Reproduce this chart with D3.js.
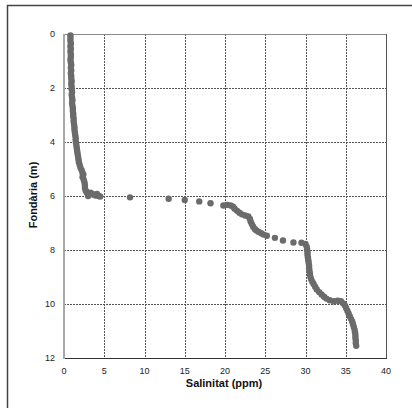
<!DOCTYPE html>
<html>
<head>
<meta charset="utf-8">
<script src="https://cdn.jsdelivr.net/npm/d3@7"></script>
<style>
  body { margin: 0; background: #fff; }
  text { font-family: "Liberation Sans", Arial, sans-serif; }
</style>
</head>
<body>
<div id="chart"></div>
<script>
// salinity (ppm) and depth (m)
var salinitat = [
  0.8,0.8,0.8,0.85,0.8,0.85,0.8,0.85,0.85,0.8,0.85,0.9,0.85,0.9,0.85,0.9,0.9,0.95,0.9,0.95,
  0.95,1.0,0.95,1.0,1.05,1.0,1.05,1.1,1.1,1.15,1.15,1.2,1.2,1.25,1.3,1.3,1.35,1.4,1.45,1.45,
  1.5,1.55,1.6,1.65,1.7,1.75,1.8,1.85,1.95,2.05,2.2,2.3,2.4,2.3,2.45,2.55,2.6,2.6,2.7,2.8,
  2.9,3.1,3.3,3.5,3.7,3.9,4.1,4.3,4.5,3.0,
  8.2,13.0,15.0,16.8,18.2,19.8,20.3,20.7,21.0,21.2,21.5,21.8,22.1,22.5,22.9,23.1,23.2,23.35,23.5,23.7,
  23.9,24.2,24.5,24.8,25.2,26.2,27.2,28.5,29.5,30.0,30.15,30.2,30.25,30.25,30.3,30.35,30.4,30.45,30.45,30.5,
  30.55,30.6,30.7,30.85,31.0,31.2,31.4,31.7,32.0,32.3,32.6,33.0,33.5,34.0,34.4,34.7,34.9,35.05,35.2,35.35,
  35.5,35.65,35.8,35.9,36.0,36.1,36.15,36.2,36.2,36.25,36.25,36.3
];
var fondaria = [
  0.05,0.15,0.25,0.35,0.45,0.55,0.65,0.75,0.85,0.95,1.05,1.15,1.25,1.35,1.45,1.55,1.65,1.75,1.85,1.95,
  2.05,2.15,2.25,2.35,2.45,2.55,2.65,2.75,2.85,2.95,3.05,3.15,3.25,3.35,3.45,3.55,3.65,3.75,3.85,3.95,
  4.05,4.15,4.25,4.35,4.45,4.55,4.65,4.75,4.85,4.95,5.05,5.15,5.2,5.3,5.4,5.5,5.6,5.7,5.8,5.85,
  5.9,5.95,5.88,5.92,5.95,5.98,5.92,6.0,6.02,6.0,
  6.05,6.1,6.15,6.2,6.27,6.35,6.33,6.35,6.4,6.47,6.55,6.62,6.68,6.72,6.76,6.85,6.95,7.05,7.14,7.22,
  7.28,7.33,7.38,7.43,7.47,7.55,7.65,7.72,7.73,7.78,7.88,7.98,8.08,8.18,8.28,8.38,8.48,8.58,8.68,8.78,
  8.88,8.98,9.08,9.18,9.26,9.36,9.46,9.56,9.65,9.73,9.8,9.86,9.9,9.88,9.9,9.98,10.06,10.15,10.25,10.35,
  10.45,10.55,10.65,10.75,10.85,10.95,11.05,11.15,11.25,11.35,11.45,11.55
];
var xTicks = [0, 5, 10, 15, 20, 25, 30, 35, 40];
var yTicks = [0, 2, 4, 6, 8, 10, 12];

var W = 412, H = 408;
var svg = d3.select("#chart").append("svg")
    .attr("width", W)
    .attr("height", H);

// outer frame (only top/left inside the picture)
svg.append("rect")
    .attr("x", 7.5).attr("y", 5.5)
    .attr("width", 500).attr("height", 500)
    .attr("fill", "none")
    .attr("stroke", "#444")
    .attr("stroke-width", 1.5);

var x = d3.scaleLinear().domain([0, 40]).range([64, 386]);
var y = d3.scaleLinear().domain([0, 12]).range([34, 358]);

// grid
svg.append("g").selectAll("line").data(xTicks.slice(1, -1)).join("line")
    .attr("x1", d => Math.round(x(d)) + 0.5).attr("x2", d => Math.round(x(d)) + 0.5)
    .attr("y1", y(0)).attr("y2", y(12))
    .attr("stroke", "#555").attr("stroke-dasharray", "2,1");
svg.append("g").selectAll("line").data(yTicks.slice(1, -1)).join("line")
    .attr("y1", d => Math.round(y(d)) + 0.5).attr("y2", d => Math.round(y(d)) + 0.5)
    .attr("x1", x(0)).attr("x2", x(40))
    .attr("stroke", "#555").attr("stroke-dasharray", "2,1");

// plot box
svg.append("line").attr("x1", x(0)).attr("x2", x(40)).attr("y1", y(0) + 0.5).attr("y2", y(0) + 0.5)
    .attr("stroke", "#888");
svg.append("line").attr("x1", x(40) + 0.5).attr("x2", x(40) + 0.5).attr("y1", y(0)).attr("y2", y(12))
    .attr("stroke", "#555");
svg.append("line").attr("x1", x(0)).attr("x2", x(40) + 1).attr("y1", y(12) + 0.5).attr("y2", y(12) + 0.5)
    .attr("stroke", "#333");
svg.append("line").attr("x1", x(0)).attr("x2", x(0)).attr("y1", y(0)).attr("y2", y(12) + 1)
    .attr("stroke", "#a8a8a8").attr("stroke-width", 2);

// tick labels
svg.append("g").selectAll("text").data(xTicks).join("text")
    .attr("x", d => x(d)).attr("y", 374)
    .attr("text-anchor", "middle")
    .attr("font-size", 9).attr("fill", "#222")
    .text(d => d);
svg.append("g").selectAll("text").data(yTicks).join("text")
    .attr("x", 55).attr("y", d => y(d) + 3)
    .attr("text-anchor", "end")
    .attr("font-size", 9).attr("fill", "#222")
    .text(d => d);

// points
svg.append("g").selectAll("circle").data(salinitat).join("circle")
    .attr("cx", d => x(d))
    .attr("cy", (d, i) => y(fondaria[i]))
    .attr("r", 3.2)
    .attr("fill", "#6b6b6b");

// axis titles
svg.append("text")
    .attr("x", 224).attr("y", 387)
    .attr("text-anchor", "middle")
    .attr("font-size", 11).attr("font-weight", "bold").attr("fill", "#111")
    .text("Salinitat (ppm)");
svg.append("text")
    .attr("transform", "translate(37,195) rotate(-90)")
    .attr("text-anchor", "middle")
    .attr("font-size", 11).attr("font-weight", "bold").attr("fill", "#111")
    .text("Fondària (m)");
</script>
</body>
</html>
